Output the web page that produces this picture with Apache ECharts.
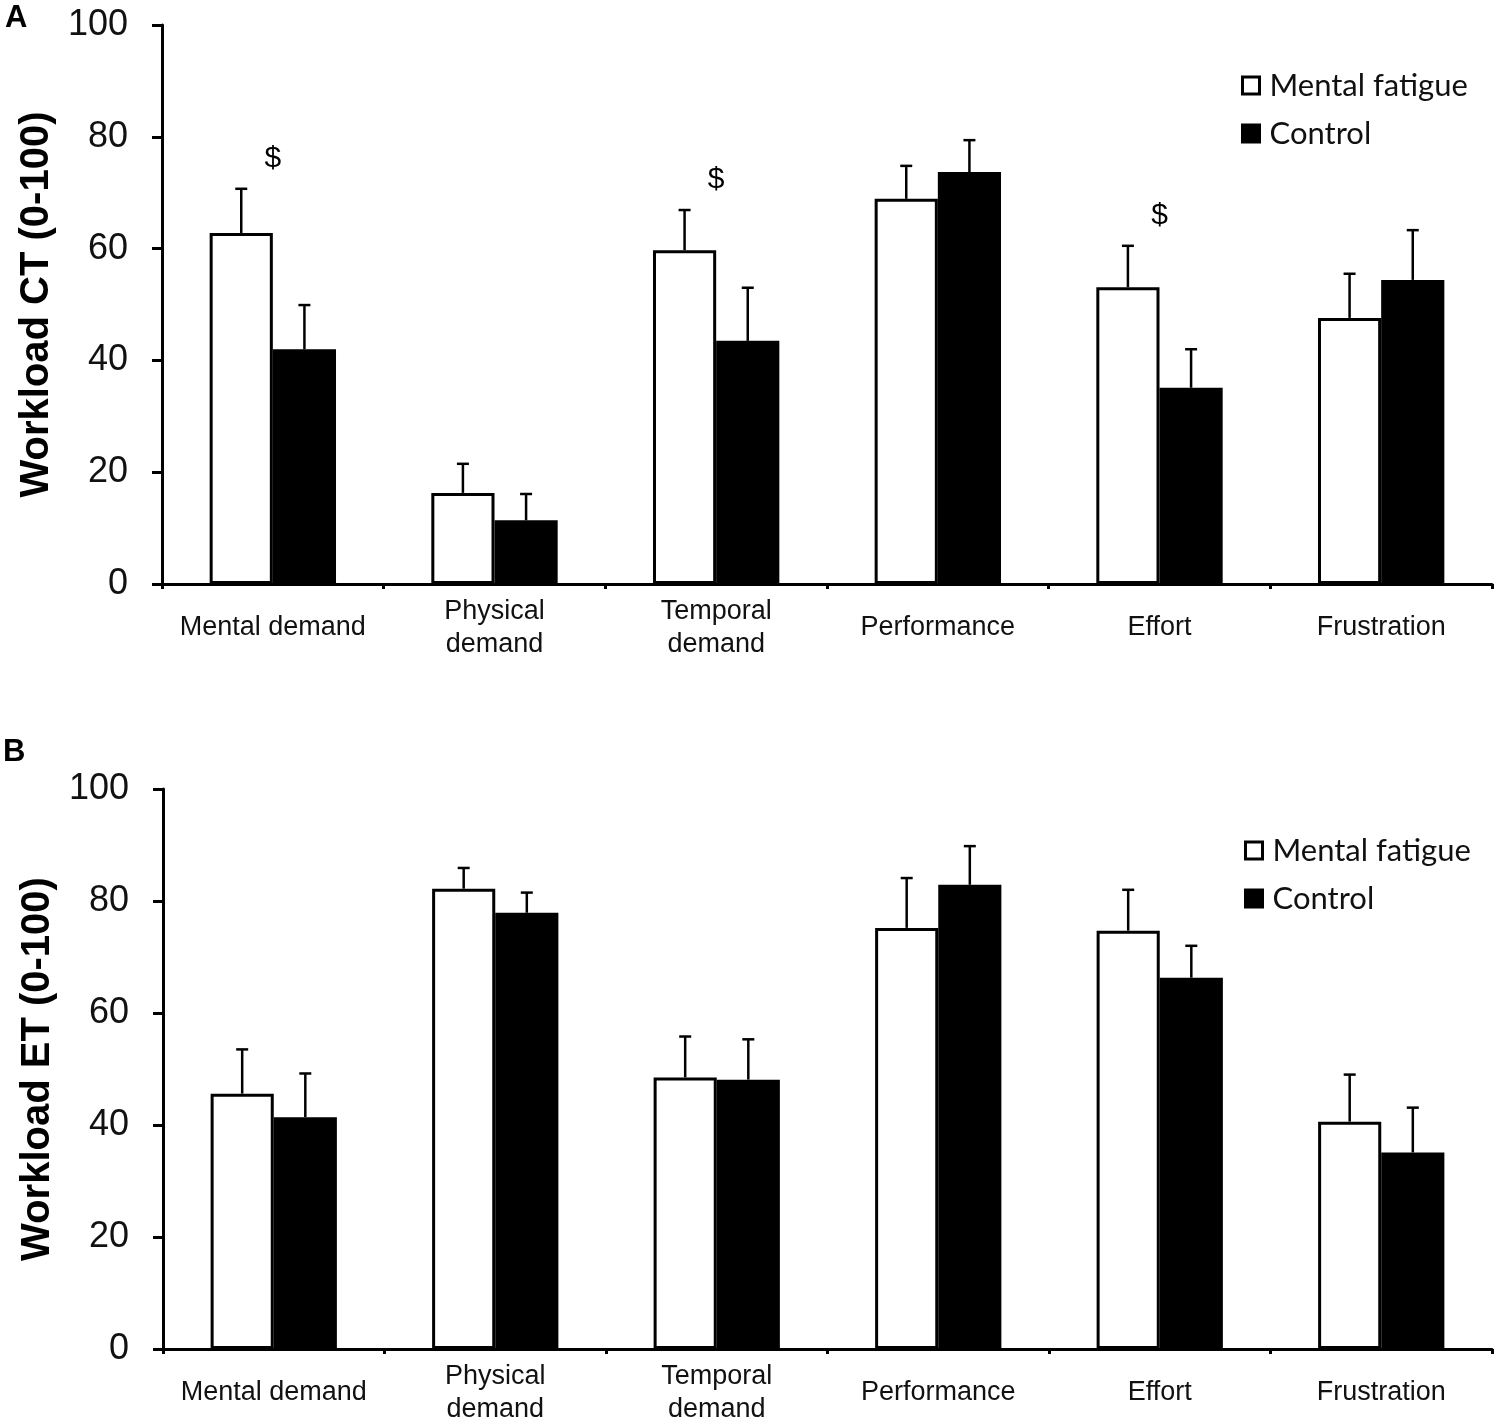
<!DOCTYPE html>
<html>
<head>
<meta charset="utf-8">
<script src="https://cdn.jsdelivr.net/npm/echarts@6/dist/echarts.min.js"></script>
<style>html,body{margin:0;padding:0;background:#fff}#c{width:1500px;height:1426px}</style>
</head>
<body>
<div id="c"></div>
<script>
const categories = ['Mental demand','Physical\ndemand','Temporal\ndemand','Performance','Effort','Frustration'];
const yTicks = [0, 20, 40, 60, 80, 100];
// Panel A: Workload CT
const ctFatigue    = [62.8, 16.3, 59.7, 68.9, 53.1, 47.6];
const ctFatigueErr = [7.9, 5.2, 7.2, 5.9, 7.4, 7.9];
const ctControl    = [42.0, 11.4, 43.5, 73.7, 35.1, 54.4];
const ctControlErr = [7.9, 4.7, 9.5, 5.7, 6.9, 8.9];
const ctSig        = ['$', '', '$', '', '$', ''];
// Panel B: Workload ET
const etFatigue    = [45.6, 82.2, 48.5, 75.2, 74.7, 40.6];
const etFatigueErr = [7.9, 3.7, 7.3, 8.9, 7.3, 8.4];
const etControl    = [41.4, 77.9, 48.1, 82.9, 66.3, 35.1];
const etControlErr = [7.8, 3.6, 7.2, 6.9, 5.7, 8.0];
const etSig        = ['', '', '', '', '', ''];

const FONT = '"Liberation Sans", Arial, sans-serif';
const BAR_FRAC = 0.285;

function errData(vals, errs, side) {
  return vals.map((v, i) => [i, v, errs[i], side]);
}
function errRender(params, api) {
  const i = api.value(0), v = api.value(1), e = api.value(2), side = api.value(3);
  const base = api.coord([i, v]);
  const top = api.coord([i, v + e]);
  const w = api.size([1, 0])[0];
  const x = base[0] + side * w * BAR_FRAC / 2;
  const st = {stroke: '#000', lineWidth: 2.5};
  return {type: 'group', children: [
    {type: 'line', shape: {x1: x, y1: base[1], x2: x, y2: top[1]}, style: st},
    {type: 'line', shape: {x1: x - 6, y1: top[1], x2: x + 6, y2: top[1]}, style: st}
  ]};
}
function sigData(sig, vals, errs) {
  const out = [];
  sig.forEach((s, i) => { if (s) out.push([i, vals[i] + errs[i], s]); });
  return out;
}
function sigRender(params, api) {
  const p = api.coord([api.value(0), api.value(1)]);
  return {type: 'text', style: {text: String(api.value(2)), x: p[0], y: p[1] - 30,
    align: 'center', verticalAlign: 'middle', fontSize: 30, fontFamily: FONT, fill: '#000'}};
}

function xAxis(gi) {
  return {type: 'category', gridIndex: gi, data: categories, boundaryGap: true,
    axisLine: {lineStyle: {color: '#000', width: 3}},
    axisTick: {show: true, length: 5, inside: false, lineStyle: {color: '#000', width: 3}},
    axisLabel: {color: '#111', fontSize: 27, fontFamily: FONT, lineHeight: 33,
      verticalAlign: 'middle', margin: 44, interval: 0}};
}
function yAxis(gi, name) {
  return {type: 'value', gridIndex: gi, min: 0, max: 100, interval: 20,
    name: name, nameLocation: 'middle', nameRotate: 90, nameGap: 104,
    nameTextStyle: {fontSize: 40, fontWeight: 'bold', fontFamily: FONT, color: '#000'},
    axisLine: {show: true, lineStyle: {color: '#000', width: 3}},
    axisTick: {show: true, length: 10, inside: false, lineStyle: {color: '#000', width: 3}},
    splitLine: {show: false},
    axisLabel: {color: '#111', fontSize: 36, fontFamily: FONT, margin: 34,
      formatter: v => yTicks.includes(v) ? String(v) : ''}};
}
const whiteStyle = {color: '#fff', borderColor: '#000', borderWidth: 3};
const blackStyle = {color: '#000', borderColor: '#000', borderWidth: 3};

const legendCommon = {orient: 'vertical', itemWidth: 17, itemHeight: 17, itemGap: 17,
  icon: 'rect', data: ['Mental fatigue', 'Control'], itemStyle: {borderWidth: 3},
  textStyle: {fontSize: 31, fontFamily: 'Lato, "Open Sans", sans-serif', color: '#111', lineHeight: 31, padding: [0, 0, 0, 5]}};

const chart = echarts.init(document.getElementById('c'), null, {renderer: 'canvas'});
chart.setOption({
  animation: false,
  backgroundColor: '#fff',
  grid: [
    {left: 162, top: 25, width: 1330, height: 559},
    {left: 163, top: 789, width: 1329, height: 561}
  ],
  legend: [
    Object.assign({}, legendCommon, {left: 1236, top: 65}),
    Object.assign({}, legendCommon, {left: 1239, top: 830})
  ],
  xAxis: [xAxis(0), xAxis(1)],
  yAxis: [yAxis(0, 'Workload CT (0-100)'), yAxis(1, 'Workload ET (0-100)')],
  graphic: [
    {type: 'text', left: 5, top: 3, style: {text: 'A', fontSize: 31, fontWeight: 'bold', fontFamily: FONT, fill: '#000'}},
    {type: 'text', left: 3, top: 737, style: {text: 'B', fontSize: 31, fontWeight: 'bold', fontFamily: FONT, fill: '#000'}}
  ],
  series: [
    {name: 'Mental fatigue', type: 'bar', xAxisIndex: 0, yAxisIndex: 0, data: ctFatigue,
      barWidth: (BAR_FRAC * 100) + '%', barGap: '0%', itemStyle: whiteStyle},
    {name: 'Control', type: 'bar', xAxisIndex: 0, yAxisIndex: 0, data: ctControl,
      barWidth: (BAR_FRAC * 100) + '%', barGap: '0%', itemStyle: blackStyle},
    {name: 'Mental fatigue', type: 'bar', xAxisIndex: 1, yAxisIndex: 1, data: etFatigue,
      barWidth: (BAR_FRAC * 100) + '%', barGap: '0%', itemStyle: whiteStyle},
    {name: 'Control', type: 'bar', xAxisIndex: 1, yAxisIndex: 1, data: etControl,
      barWidth: (BAR_FRAC * 100) + '%', barGap: '0%', itemStyle: blackStyle},
    {type: 'custom', xAxisIndex: 0, yAxisIndex: 0, renderItem: errRender, data: errData(ctFatigue, ctFatigueErr, -1), encode: {x: 0, y: 1}, z: 5},
    {type: 'custom', xAxisIndex: 0, yAxisIndex: 0, renderItem: errRender, data: errData(ctControl, ctControlErr, 1), encode: {x: 0, y: 1}, z: 5},
    {type: 'custom', xAxisIndex: 1, yAxisIndex: 1, renderItem: errRender, data: errData(etFatigue, etFatigueErr, -1), encode: {x: 0, y: 1}, z: 5},
    {type: 'custom', xAxisIndex: 1, yAxisIndex: 1, renderItem: errRender, data: errData(etControl, etControlErr, 1), encode: {x: 0, y: 1}, z: 5},
    {type: 'custom', xAxisIndex: 0, yAxisIndex: 0, renderItem: sigRender, data: sigData(ctSig, ctFatigue, ctFatigueErr), encode: {x: 0, y: 1}, z: 6},
    {type: 'custom', xAxisIndex: 1, yAxisIndex: 1, renderItem: sigRender, data: sigData(etSig, etFatigue, etFatigueErr), encode: {x: 0, y: 1}, z: 6}
  ]
});
</script>
</body>
</html>
